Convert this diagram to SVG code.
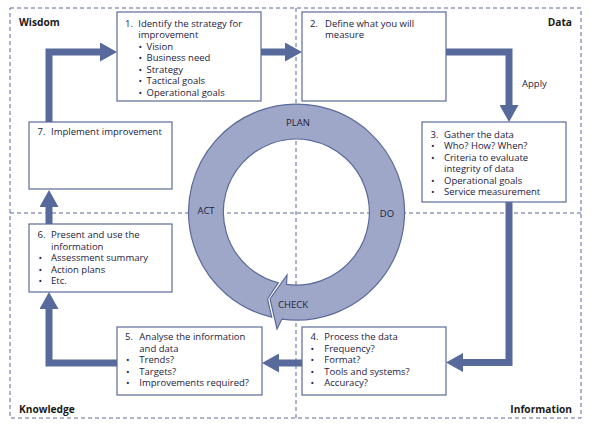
<svg xmlns="http://www.w3.org/2000/svg" width="597" height="433" viewBox="0 0 597 433">
<defs>
<style>
.dash{fill:none;stroke:#5b6a99;stroke-width:1;stroke-dasharray:4 3}
.box{fill:#fff;stroke:#5b6a99;stroke-width:1.2}
.t{font-family:"Open Sans","Noto Sans",sans-serif;font-size:9.5px;fill:#1e2140}
.h{font-family:"Open Sans","Noto Sans",sans-serif;font-size:10.2px;font-weight:bold;fill:#1a1a1a}
.r{font-family:"Open Sans","Noto Sans",sans-serif;font-size:9.5px;fill:#23233a;text-anchor:middle}
.conn{fill:none;stroke:#58699b;stroke-width:7;stroke-linejoin:miter;marker-end:url(#ah)}
</style>
<marker id="ah" markerUnits="userSpaceOnUse" viewBox="0 0 17 19" refX="0" refY="9.5" markerWidth="17" markerHeight="19" orient="auto"><path d="M0,0 L17,9.5 L0,19 Z" fill="#58699b"/></marker>
</defs>
<rect width="597" height="433" fill="#fff"/>
<g id="frame">
<rect class="dash" x="10" y="8" width="571" height="410"/>
<line class="dash" x1="296" y1="8" x2="296" y2="418"/>
<line class="dash" x1="10" y1="213" x2="581" y2="213"/>
<text class="h" x="19" y="25.5">Wisdom</text>
<text class="h" x="572" y="25.5" text-anchor="end">Data</text>
<text class="h" x="19" y="413">Knowledge</text>
<text class="h" x="572" y="413" text-anchor="end">Information</text>
</g>
<g id="cycle">
<path d="M287,275 L270,299 L277,329 L281.9,319.1 A108,108 0 1 0 271.7,317.2 L267.5,299 L278.3,282.8 A73,73 0 1 1 286.5,284.4 Z" fill="#9ea7c8" stroke="#5a6a9a" stroke-width="1.2" stroke-linejoin="miter"/>
<text class="r" x="298" y="126">PLAN</text>
<text class="r" x="387" y="217">DO</text>
<text class="r" x="293" y="308">CHECK</text>
<text class="r" x="206" y="214">ACT</text>
</g>
<g id="connectors">
<path class="conn" d="M49,122 V52 H100"/>
<path class="conn" d="M261,52 H285"/>
<path class="conn" d="M446,52 H509 V105"/>
<path class="conn" d="M509,202 V362.5 H463"/>
<path class="conn" d="M302,363 H279"/>
<path class="conn" d="M117,363 H49 V309"/>
<path class="conn" d="M49,224 V207"/>
<text class="t" x="522" y="86.5">Apply</text>
</g>
<g id="n1">
<rect class="box" x="117" y="12" width="144" height="89"/>
<text class="t"><tspan x="125" y="26.5">1.</tspan><tspan x="138.3">Identify the strategy for</tspan><tspan x="138.3" y="38">improvement</tspan>
<tspan x="138.5" y="49.5">•</tspan><tspan x="146.5">Vision</tspan>
<tspan x="138.5" y="61">•</tspan><tspan x="146.5">Business need</tspan>
<tspan x="138.5" y="72.5">•</tspan><tspan x="146.5">Strategy</tspan>
<tspan x="138.5" y="84">•</tspan><tspan x="146.5">Tactical goals</tspan>
<tspan x="138.5" y="95.5">•</tspan><tspan x="146.5">Operational goals</tspan></text>
</g>
<g id="n2">
<rect class="box" x="302" y="12" width="144" height="89"/>
<text class="t"><tspan x="310" y="26.5">2.</tspan><tspan x="325">Define what you will</tspan><tspan x="325" y="38">measure</tspan></text>
</g>
<g id="n3">
<rect class="box" x="422" y="122" width="144" height="80"/>
<text class="t"><tspan x="430.5" y="137.5">3.</tspan><tspan x="444">Gather the data</tspan>
<tspan x="431" y="149">•</tspan><tspan x="444">Who? How? When?</tspan>
<tspan x="431" y="160.5">•</tspan><tspan x="444">Criteria to evaluate</tspan>
<tspan x="444" y="172">integrity of data</tspan>
<tspan x="431" y="183.5">•</tspan><tspan x="444">Operational goals</tspan>
<tspan x="431" y="195">•</tspan><tspan x="444">Service measurement</tspan></text>
</g>
<g id="n4">
<rect class="box" x="302" y="327" width="144" height="68"/>
<text class="t"><tspan x="310.5" y="340">4.</tspan><tspan x="324.3">Process the data</tspan>
<tspan x="310.5" y="351.5">•</tspan><tspan x="324.3">Frequency?</tspan>
<tspan x="310.5" y="363">•</tspan><tspan x="324.3">Format?</tspan>
<tspan x="310.5" y="374.5">•</tspan><tspan x="324.3">Tools and systems?</tspan>
<tspan x="310.5" y="386">•</tspan><tspan x="324.3">Accuracy?</tspan></text>
</g>
<g id="n5">
<rect class="box" x="117" y="327" width="145" height="68"/>
<text class="t"><tspan x="125" y="339.5">5.</tspan><tspan x="139.3">Analyse the information</tspan>
<tspan x="139.3" y="351.5">and data</tspan>
<tspan x="126" y="363">•</tspan><tspan x="139.3">Trends?</tspan>
<tspan x="126" y="374.5">•</tspan><tspan x="139.3">Targets?</tspan>
<tspan x="126" y="386">•</tspan><tspan x="139.3">Improvements required?</tspan></text>
</g>
<g id="n6">
<rect class="box" x="29" y="224" width="143" height="68"/>
<text class="t"><tspan x="37.5" y="238">6.</tspan><tspan x="51">Present and use the</tspan>
<tspan x="51" y="249.5">information</tspan>
<tspan x="38.5" y="261">•</tspan><tspan x="51">Assessment summary</tspan>
<tspan x="38.5" y="272.5">•</tspan><tspan x="51">Action plans</tspan>
<tspan x="38.5" y="284">•</tspan><tspan x="51">Etc.</tspan></text>
</g>
<g id="n7">
<rect class="box" x="29" y="122" width="143" height="67"/>
<text class="t"><tspan x="37.5" y="135">7.</tspan><tspan x="51">Implement improvement</tspan></text>
</g>
</svg>
